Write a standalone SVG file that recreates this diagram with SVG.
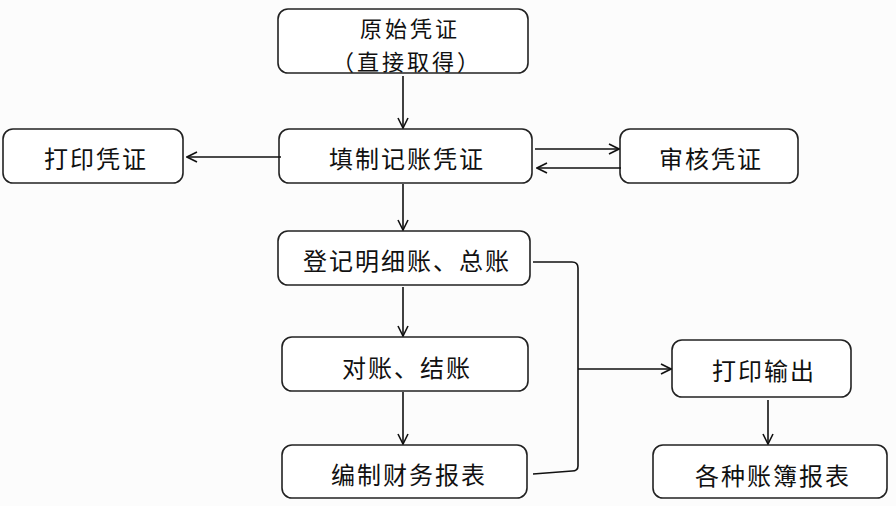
<svg xmlns="http://www.w3.org/2000/svg" width="896" height="506" viewBox="0 0 896 506">
<defs>
<style>
.box{fill:#fff;stroke:#222;stroke-width:1.6}
.t{font-family:"Noto Sans CJK SC","Noto Sans",sans-serif;font-size:24px;letter-spacing:2px;fill:#111;text-anchor:middle;dominant-baseline:central}
.s{font-size:22px;letter-spacing:3px}
.c{fill:none;stroke:#111;stroke-width:1.6}
</style>
<marker id="ah" viewBox="0 0 12 12" refX="11" refY="6" markerWidth="12" markerHeight="12" markerUnits="userSpaceOnUse" orient="auto">
<path d="M1,1 L11,6 L1,11" fill="none" stroke="#111" stroke-width="1.6"/>
</marker>
</defs>
<rect width="896" height="506" fill="#fcfcfc"/>
<g id="n1"><rect class="box" x="278" y="9" width="250" height="64" rx="10"/><text class="t s" x="410" y="27">原始凭证</text><text class="t s" x="407" y="60">（直接取得）</text></g>
<g id="n2"><rect class="box" x="279" y="129" width="253" height="54" rx="10"/><text class="t" x="407" y="157">填制记账凭证</text></g>
<g id="n3"><rect class="box" x="3" y="129" width="180" height="54" rx="10"/><text class="t" x="96" y="157">打印凭证</text></g>
<g id="n4"><rect class="box" x="620" y="129" width="178" height="54" rx="10"/><text class="t" x="711" y="157">审核凭证</text></g>
<g id="n5"><rect class="box" x="278" y="231" width="252" height="54" rx="10"/><text class="t" x="407" y="259">登记明细账、总账</text></g>
<g id="n6"><rect class="box" x="282" y="337" width="246" height="54" rx="10"/><text class="t" x="407" y="366">对账、结账</text></g>
<g id="n7"><rect class="box" x="282" y="445" width="245" height="53" rx="10"/><text class="t" x="409" y="473">编制财务报表</text></g>
<g id="n8"><rect class="box" x="672" y="340" width="179" height="57" rx="10"/><text class="t" x="764" y="369">打印输出</text></g>
<g id="n9"><rect class="box" x="653" y="445" width="234" height="53" rx="10"/><text class="t" x="773" y="474">各种账簿报表</text></g>
<g id="connectors">
<line class="c" x1="403" y1="76" x2="403" y2="128" marker-end="url(#ah)"/>
<line class="c" x1="281" y1="157" x2="187" y2="157" marker-end="url(#ah)"/>
<line class="c" x1="535" y1="149" x2="619" y2="149" marker-end="url(#ah)"/>
<line class="c" x1="621" y1="168" x2="537" y2="168" marker-end="url(#ah)"/>
<line class="c" x1="403" y1="184" x2="403" y2="230" marker-end="url(#ah)"/>
<line class="c" x1="403" y1="287" x2="403" y2="336" marker-end="url(#ah)"/>
<line class="c" x1="403" y1="392" x2="403" y2="444" marker-end="url(#ah)"/>
<path class="c" d="M533,262 L572,262 Q578,262 578,268 L578,466 Q578,471 572,471 L533,474"/>
<line class="c" x1="578" y1="369" x2="671" y2="369" marker-end="url(#ah)"/>
<line class="c" x1="768" y1="400" x2="768" y2="444" marker-end="url(#ah)"/>
</g>
</svg>
